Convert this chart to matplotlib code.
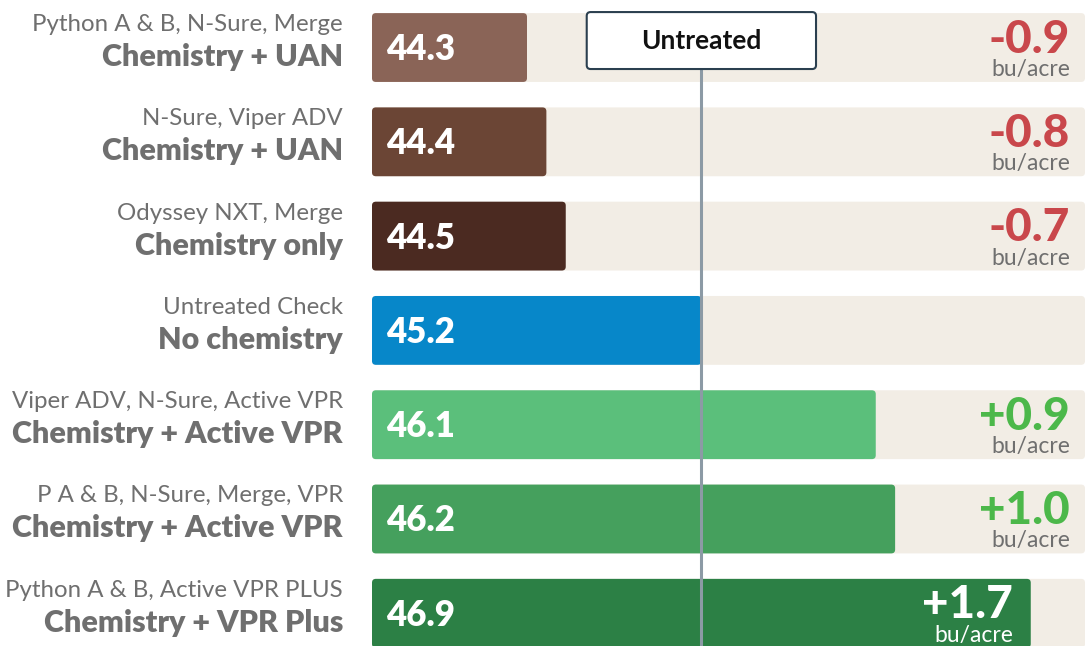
import matplotlib
matplotlib.use("Agg")
import matplotlib.pyplot as plt
from matplotlib.patches import FancyBboxPatch

plt.rcParams['font.family'] = ['Lato', 'DejaVu Sans']

# data
products = ["Python A & B, N-Sure, Merge", "N-Sure, Viper ADV", "Odyssey NXT, Merge",
            "Untreated Check", "Viper ADV, N-Sure, Active VPR",
            "P A & B, N-Sure, Merge, VPR", "Python A & B, Active VPR PLUS"]
groups = ["Chemistry + UAN", "Chemistry + UAN", "Chemistry only", "No chemistry",
          "Chemistry + Active VPR", "Chemistry + Active VPR", "Chemistry + VPR Plus"]
yields = [44.3, 44.4, 44.5, 45.2, 46.1, 46.2, 46.9]
deltas = ["-0.9", "-0.8", "-0.7", "", "+0.9", "+1.0", "+1.7"]
colors = ["#8a6457", "#6b4535", "#4b2a21", "#0787c9", "#5bbf7b", "#45a05d", "#2c8045"]
check_value = 45.2
x_min, x_max = 43.5, 47.18

fig = plt.figure(figsize=(10.91, 6.46), dpi=100)
ax = fig.add_axes([372 / 1091, 0, (1085 - 372) / 1091, 1])
ax.set_xlim(x_min, x_max)
ax.set_ylim(6.347, -0.504)
ax.axis('off')

bar_h = 0.73
grey = "#6f6f6f"
red = "#c9474b"
green = "#4cb84a"


def rounded(x0, x1, yc, color, z):
    p = FancyBboxPatch((x0, yc - bar_h / 2), x1 - x0, bar_h,
                       boxstyle="round,pad=0,rounding_size=0.02",
                       mutation_aspect=2.05, fc=color, ec='none', zorder=z)
    ax.add_patch(p)


px = 0.72  # points per pixel at 100 dpi
for i, (prod, grp, val, d, c) in enumerate(zip(products, groups, yields, deltas, colors)):
    rounded(x_min, x_max, i, "#f2ede5", 1)
    rounded(x_min, val, i, c, 2)

    ax.annotate(prod, xy=(0, i), xycoords=('axes fraction', 'data'),
                xytext=(-29 * px, 16.5 * px), textcoords='offset points',
                ha='right', va='baseline', fontsize=17.3, color=grey)
    ax.annotate(grp, xy=(0, i), xycoords=('axes fraction', 'data'),
                xytext=(-29 * px, -18.5 * px), textcoords='offset points',
                ha='right', va='baseline', fontsize=22, fontweight='heavy', color=grey)

    ax.annotate(f"{val:.1f}", xy=(x_min, i), xytext=(14 * px, -12.5 * px),
                textcoords='offset points', ha='left', va='baseline',
                fontsize=25, fontweight='heavy', color='white', zorder=5)

    if d:
        # put the delta inside the bar when the bar reaches the right end
        inside = (x_max - val) < 0.6
        if inside:
            xy = (val, i)
            dc, uc = 'white', 'white'
            dx = -18
        else:
            xy = (x_max, i)
            dc = red if d.startswith('-') else green
            uc = grey
            dx = -15
        ax.annotate(d, xy=xy, xytext=(dx * px, -5 * px), textcoords='offset points',
                    ha='right', va='baseline', fontsize=33, fontweight='black',
                    color=dc, zorder=5)
        ax.annotate("bu/acre", xy=xy, xytext=(dx * px, -28.5 * px), textcoords='offset points',
                    ha='right', va='baseline', fontsize=16.5, color=uc, zorder=5)

# reference line and label box for the untreated check
box_w = 229 / 193.5
box_top, box_bot = -0.376, 0.228
ax.plot([check_value, check_value], [box_bot, 6.347], color="#8c9aa5", lw=2.2, zorder=4)
box = FancyBboxPatch((check_value - box_w / 2, box_top), box_w, box_bot - box_top,
                     boxstyle="round,pad=0,rounding_size=0.02", mutation_aspect=2.05,
                     fc='white', ec="#2b3f4f", lw=1.5, zorder=6)
ax.add_patch(box)
ax.text(check_value, (box_top + box_bot) / 2, "Untreated", ha='center', va='center',
        fontsize=19, fontweight='bold', color="#111111", zorder=7)

fig.savefig("out.png", dpi=100)
